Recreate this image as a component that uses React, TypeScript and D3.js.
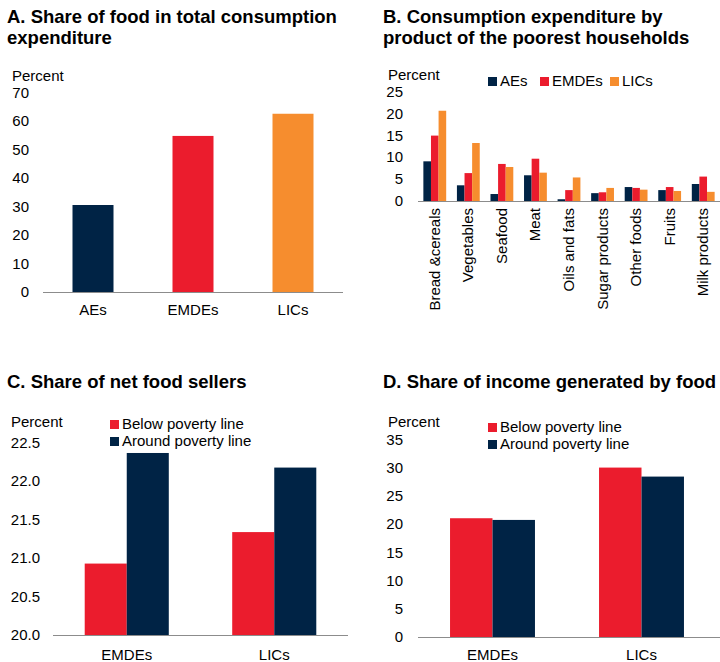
import React, { useEffect, useRef } from 'react';
import * as d3 from 'd3';

const NAVY = '#002345';
const RED = '#eb1c2d';
const ORANGE = '#f68d2e';

// Panel A
const regionsA = ['AEs', 'EMDEs', 'LICs'];
const foodShareA = [30.6, 54.9, 62.7];
const ticksA = [0, 10, 20, 30, 40, 50, 60, 70];

// Panel B
const productsB = ['Bread &cereals', 'Vegetables', 'Seafood', 'Meat', 'Oils and fats', 'Sugar products', 'Other foods', 'Fruits', 'Milk products'];
const aesB = [9.1, 3.6, 1.6, 5.9, 0.4, 1.8, 3.2, 2.5, 3.9];
const emdesB = [15.0, 6.4, 8.5, 9.7, 2.5, 2.0, 3.0, 3.2, 5.6];
const licsB = [20.7, 13.3, 7.8, 6.5, 5.4, 3.0, 2.6, 2.3, 2.1];
const ticksB = [0, 5, 10, 15, 20, 25];

// Panel C
const groupsC = ['EMDEs', 'LICs'];
const belowC = [20.93, 21.34];
const aroundC = [22.37, 22.18];
const ticksC = [20.0, 20.5, 21.0, 21.5, 22.0, 22.5];

// Panel D
const groupsD = ['EMDEs', 'LICs'];
const belowD = [21.1, 30.1];
const aroundD = [20.8, 28.5];
const ticksD = [0, 5, 10, 15, 20, 25, 30, 35];

const FONT = '"Liberation Sans", Arial, sans-serif';

type Series = { name: string; color: string; values: number[] };

function drawPanel(
  svg: d3.Selection<SVGSVGElement, unknown, null, undefined>,
  opts: {
    title: string[];
    titleX: number;
    titleY: number;
    cats: string[];
    series: Series[];
    x0: number; x1: number; axisEnd: number;
    y0: number; y1: number;
    domain: [number, number];
    ticks: number[];
    tickFmt: (d: number) => string;
    labelX: number;
    percentX: number; percentY: number;
    padInner: number; groupPad: number;
    rotate?: boolean;
    catY: number;
  }
) {
  const g = svg.append('g').style('font-family', FONT);
  opts.title.forEach((t, i) => {
    g.append('text').attr('x', opts.titleX).attr('y', opts.titleY + i * 21)
      .attr('font-size', 18.5).attr('font-weight', 'bold').attr('fill', '#000').text(t);
  });
  const y = d3.scaleLinear().domain(opts.domain).range([opts.y0, opts.y1]);
  const x = d3.scaleBand().domain(opts.cats).range([opts.x0, opts.x1]).paddingInner(opts.padInner).paddingOuter(opts.padInner / 2);
  const xs = d3.scaleBand().domain(opts.series.map(s => s.name)).range([0, x.bandwidth()]).paddingInner(opts.groupPad);

  g.append('text').attr('x', opts.percentX).attr('y', opts.percentY).attr('font-size', 15).text('Percent');
  g.selectAll('text.tick').data(opts.ticks).enter().append('text')
    .attr('class', 'tick')
    .attr('x', opts.labelX).attr('y', d => y(d) + 5)
    .attr('text-anchor', 'end').attr('font-size', 15).attr('fill', '#000')
    .text(d => opts.tickFmt(d));

  opts.series.forEach(s => {
    g.selectAll(null).data(opts.cats).enter().append('rect')
      .attr('x', c => x(c)! + xs(s.name)!)
      .attr('width', xs.bandwidth())
      .attr('y', (c, i) => y(s.values[i]))
      .attr('height', (c, i) => opts.y0 - y(s.values[i]))
      .attr('fill', s.color);
  });

  g.append('line').attr('x1', opts.x0).attr('x2', opts.axisEnd).attr('y1', opts.y0 + 0.5).attr('y2', opts.y0 + 0.5)
    .attr('stroke', '#8c8c8c').attr('stroke-width', 1);

  opts.cats.forEach(c => {
    const cx = x(c)! + x.bandwidth() / 2;
    if (opts.rotate) {
      g.append('text').attr('transform', `translate(${cx + 5},${opts.catY}) rotate(-90)`)
        .attr('text-anchor', 'end').attr('font-size', 15).text(c);
    } else {
      g.append('text').attr('x', cx).attr('y', opts.catY).attr('text-anchor', 'middle').attr('font-size', 15).text(c);
    }
  });
  return g;
}

function legend(g: d3.Selection<SVGGElement, unknown, null, undefined>, items: { name: string; color: string; x: number; y: number }[]) {
  items.forEach(it => {
    g.append('rect').attr('x', it.x).attr('y', it.y - 9).attr('width', 9).attr('height', 9).attr('fill', it.color);
    g.append('text').attr('x', it.x + 12).attr('y', it.y).attr('font-size', 15).text(it.name);
  });
}

export default function App() {
  const ref = useRef<SVGSVGElement>(null);

  useEffect(() => {
    if (!ref.current) return;
    const svg = d3.select(ref.current);
    svg.selectAll('*').remove();

    // A
    drawPanel(svg, {
      title: ['A. Share of food in total consumption', 'expenditure'],
      titleX: 7, titleY: 23,
      cats: regionsA,
      series: [{ name: 'v', color: NAVY, values: foodShareA }],
      x0: 43, x1: 343, axisEnd: 343, y0: 292, y1: 93, domain: [0, 70],
      ticks: ticksA, tickFmt: d => String(d), labelX: 29,
      percentX: 12, percentY: 81, padInner: 0.59, groupPad: 0, catY: 315,
    });
    // recolor panel A bars per category
    const colorsA = [NAVY, RED, ORANGE];
    svg.select('g').selectAll('rect').attr('fill', (d, i) => colorsA[i]);

    // B
    const gB = drawPanel(svg, {
      title: ['B. Consumption expenditure by', 'product of the poorest households'],
      titleX: 383, titleY: 23,
      cats: productsB,
      series: [
        { name: 'AEs', color: NAVY, values: aesB },
        { name: 'EMDEs', color: RED, values: emdesB },
        { name: 'LICs', color: ORANGE, values: licsB },
      ],
      x0: 418, x1: 720, axisEnd: 720, y0: 201, y1: 92, domain: [0, 25],
      ticks: ticksB, tickFmt: d => String(d), labelX: 403,
      percentX: 388, percentY: 80, padInner: 0.32, groupPad: 0, catY: 208, rotate: true,
    });
    legend(gB, [
      { name: 'AEs', color: NAVY, x: 488, y: 86 },
      { name: 'EMDEs', color: RED, x: 540, y: 86 },
      { name: 'LICs', color: ORANGE, x: 610, y: 86 },
    ]);

    // C
    const gC = drawPanel(svg, {
      title: ['C. Share of net food sellers'],
      titleX: 7, titleY: 388,
      cats: groupsC,
      series: [
        { name: 'Below poverty line', color: RED, values: belowC },
        { name: 'Around poverty line', color: NAVY, values: aroundC },
      ],
      x0: 53, x1: 348, axisEnd: 348, y0: 635, y1: 443, domain: [20, 22.5],
      ticks: ticksC, tickFmt: d => d.toFixed(1), labelX: 40,
      percentX: 11, percentY: 427, padInner: 0.43, groupPad: 0, catY: 660,
    });
    legend(gC, [
      { name: 'Below poverty line', color: RED, x: 110, y: 429 },
      { name: 'Around poverty line', color: NAVY, x: 110, y: 446 },
    ]);

    // D
    const gD = drawPanel(svg, {
      title: ['D. Share of income generated by food'],
      titleX: 383, titleY: 388,
      cats: groupsD,
      series: [
        { name: 'Below poverty line', color: RED, values: belowD },
        { name: 'Around poverty line', color: NAVY, values: aroundD },
      ],
      x0: 418, x1: 716, axisEnd: 720, y0: 637, y1: 440, domain: [0, 35],
      ticks: ticksD, tickFmt: d => String(d), labelX: 403,
      percentX: 388, percentY: 427, padInner: 0.43, groupPad: 0, catY: 660,
    });
    legend(gD, [
      { name: 'Below poverty line', color: RED, x: 488, y: 432 },
      { name: 'Around poverty line', color: NAVY, x: 488, y: 449 },
    ]);
  }, []);

  return (
    <svg ref={ref} width={720} height={662}
      style={{ position: 'absolute', left: 0, top: 0, background: '#fff' }} />
  );
}
